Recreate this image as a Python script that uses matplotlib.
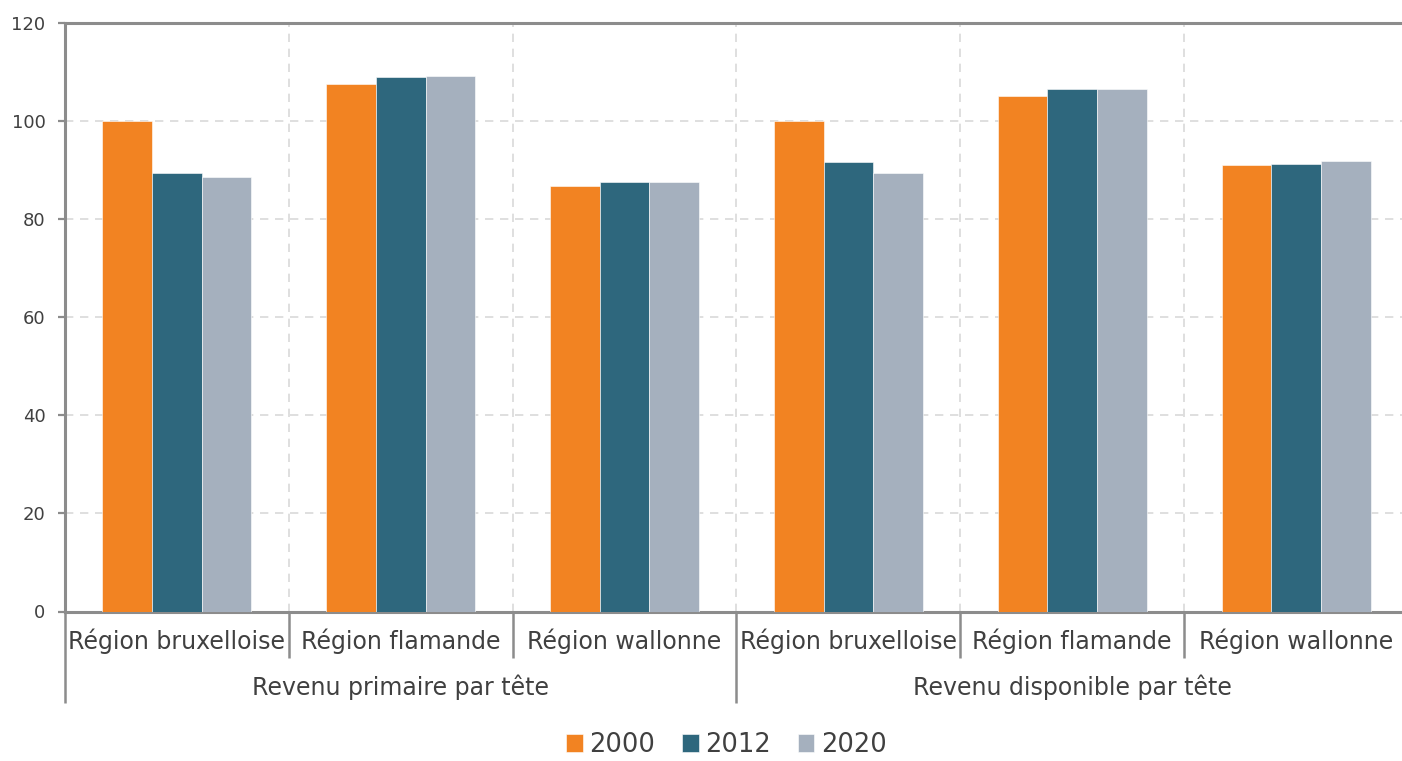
import matplotlib.pyplot as plt
import numpy as np

# data
groups = ['Revenu primaire par tête', 'Revenu disponible par tête']
regions = ['Région bruxelloise', 'Région flamande', 'Région wallonne']
years = ['2000', '2012', '2020']
v2000 = [100.0, 107.6, 86.7, 100.0, 105.1, 91.1]
v2012 = [89.5, 108.9, 87.6, 91.6, 106.6, 91.3]
v2020 = [88.5, 109.2, 87.6, 89.4, 106.6, 91.9]
colors = ['#F28322', '#2E677D', '#A5B0BE']

text_col = '#404040'
axis_col = '#8C8C8C'
grid_col = '#D9D9D9'

plt.rcParams['font.family'] = ['DejaVu Sans']

fig = plt.figure(figsize=(14.02, 7.61), dpi=100)
ax = fig.add_axes([65 / 1402, 1 - 611.5 / 761, 1343 / 1402, 588.5 / 761])

cats = [r for g in groups for r in regions]
x = np.arange(len(cats))
w = 0.222
for i, (vals, yr) in enumerate(zip([v2000, v2012, v2020], years)):
    ax.bar(x + (i - 1) * w, vals, width=w, color=colors[i], label=yr,
           edgecolor='white', linewidth=0.4, zorder=3)

ax.set_xlim(-0.5, len(cats) - 0.5)
ax.set_ylim(0, 120)
ax.set_yticks(range(0, 121, 20))
ax.tick_params(axis='y', labelsize=13, colors=axis_col, labelcolor=text_col,
               length=5, width=1.6, pad=9)
ax.set_xticks([])

# grid
for yv in range(20, 120, 20):
    ax.axhline(yv, color=grid_col, lw=1.2, ls=(0, (5, 4)), zorder=1)
for xb in np.arange(0.5, len(cats) - 0.5, 1):
    ax.axvline(xb, color=grid_col, lw=1.2, ls=(0, (5, 4)), zorder=1)

for s in ['left', 'bottom', 'top']:
    ax.spines[s].set_color(axis_col)
    ax.spines[s].set_linewidth(2.2)
ax.spines['right'].set_visible(False)

# multi-level category axis
tr = ax.get_xaxis_transform()
for xb in np.arange(-0.5, len(cats) + 0.5, 1):
    bottom = -0.155 if (xb + 0.5) % 3 == 0 else -0.079
    ax.plot([xb, xb], [0, bottom], transform=tr, color=axis_col, lw=1.8,
            clip_on=False, solid_capstyle='butt')
for xi, c in zip(x, cats):
    ax.text(xi, -0.050, c, transform=tr, ha='center', va='center',
            fontsize=17, color=text_col)
for gi, g in enumerate(groups):
    ax.text(gi * 3 + 1, -0.128, g, transform=tr, ha='center', va='center',
            fontsize=17, color=text_col)

leg = fig.legend(loc='center', bbox_to_anchor=(0.518, 0.021), ncol=3,
                 frameon=False, fontsize=18.5, handlelength=0.65,
                 handleheight=0.65, handletextpad=0.25, columnspacing=1.05)
for t in leg.get_texts():
    t.set_color(text_col)

fig.savefig('out.png', dpi=100)
